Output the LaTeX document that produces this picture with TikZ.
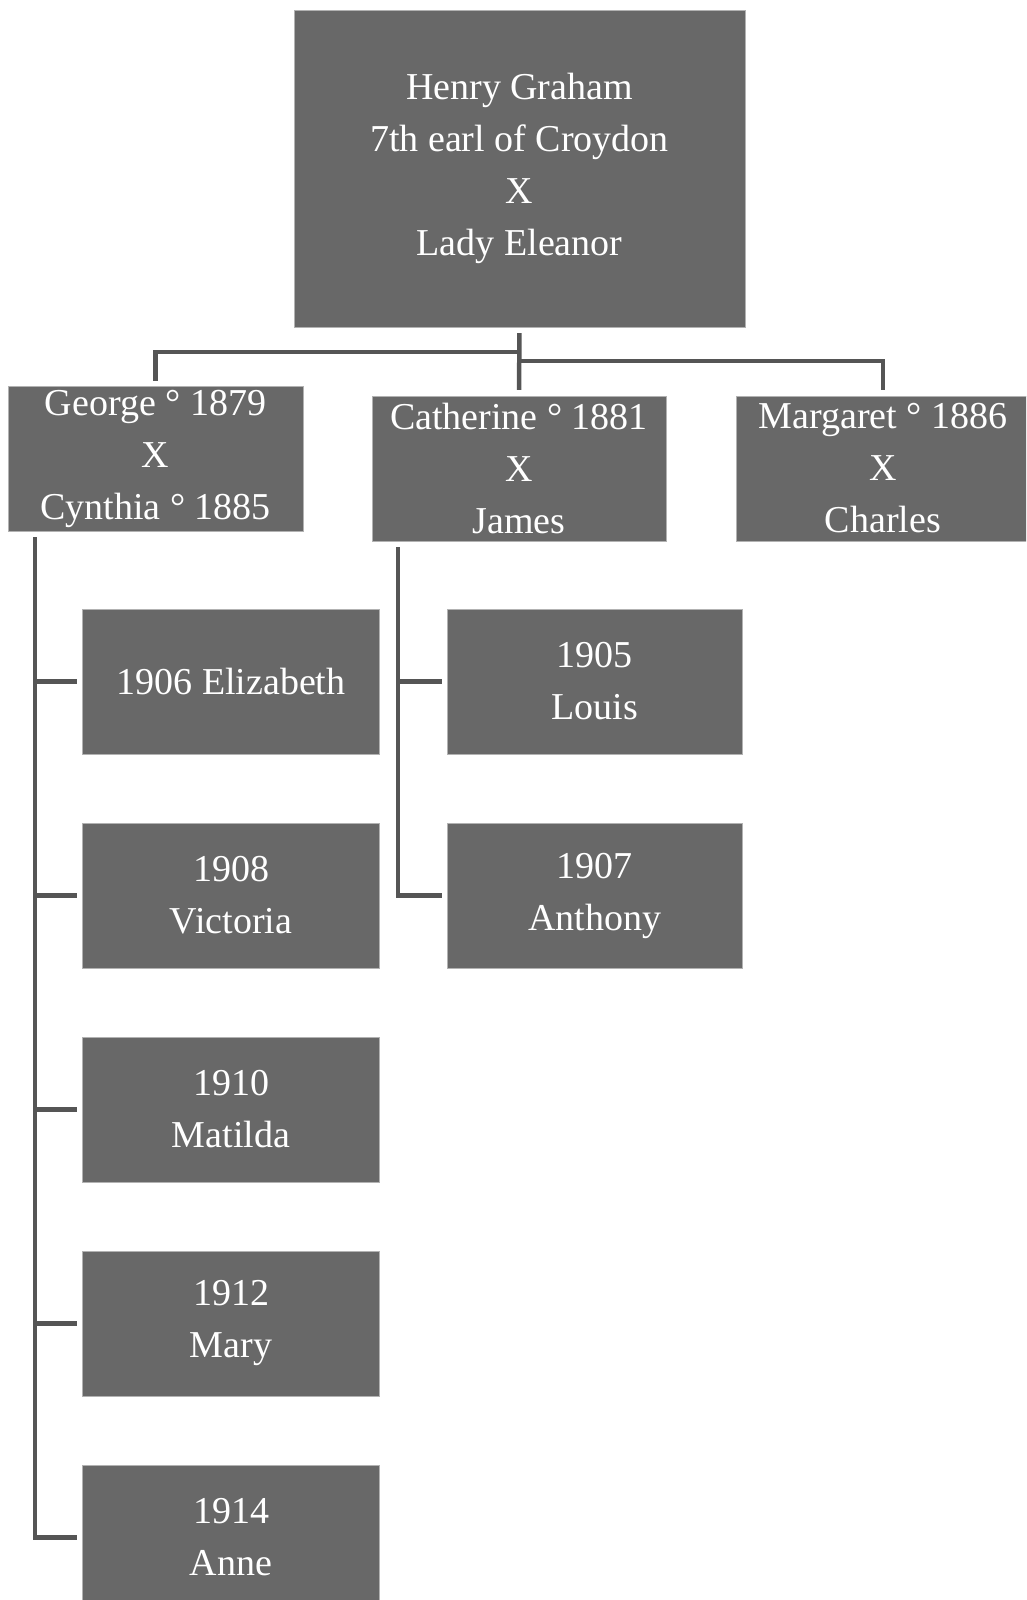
\documentclass[tikz,border=0pt]{standalone}
\usepackage{fontspec}
\setmainfont{Liberation Serif}
\usepackage{tikz}
\usepackage{xcolor}

\definecolor{boxgray}{HTML}{686868}
\definecolor{linegray}{HTML}{555555}

\tikzset{
  person/.style={rectangle, fill=boxgray, draw=gray!60, thin, text=white,
    align=center, inner sep=0pt, font=\fontsize{38}{52}\selectfont},
  link/.style={draw=linegray, line width=4.5pt, line join=miter}
}

\begin{document}
\begin{tikzpicture}[x=1pt, y=-1pt]
          \clip (0,0) rectangle (1026,1600);
          \fill[white] (0,0) rectangle (1026,1600);

          % parents
          \node[person, minimum width=451pt, minimum height=317pt] (henry) at (519.5,168.5)
            {Henry Graham\\7th earl of Croydon\\X\\Lady Eleanor};

          % children and spouses
          \node[person, minimum width=295pt, minimum height=145pt] (george) at (155.5,458.5)
            {George ° 1879\\X\\Cynthia ° 1885};
          \node[person, minimum width=294pt, minimum height=145pt] (cath) at (519,468.5)
            {Catherine ° 1881\\X\\James};
          \node[person, minimum width=294pt, minimum height=145pt] (marg) at (883,468.5)
            {Margaret ° 1886\\X\\Charles};

          % links to parents
          \draw[link, shorten <=6pt, shorten >=6pt] (henry.south) -- (cath.north);
          \draw[link] ([yshift=-25pt]henry.south) -| ([yshift=5pt]george.north);
          \draw[link] ([yshift=-34pt]henry.south) -| ([yshift=6pt]marg.north);

          % George's children
          \node[person, minimum width=297pt, minimum height=145pt] (eliz) at (231,681.5) {1906 Elizabeth};
          \node[person, minimum width=297pt, minimum height=145pt] (vict) at (231,895.5) {1908\\Victoria};
          \node[person, minimum width=297pt, minimum height=145pt] (mati) at (231,1109.5) {1910\\Matilda};
          \node[person, minimum width=297pt, minimum height=145pt] (mary) at (231,1323.5) {1912\\Mary};
          \node[person, minimum width=297pt, minimum height=145pt] (anne) at (231,1537.5) {1914\\Anne};

          \coordinate (gtrunk) at (35,537);
          \draw[link] (gtrunk) |- ([xshift=-5pt]anne.west);
          \foreach \kid in {eliz, vict, mati, mary}
            \draw[link] (gtrunk |- \kid.west) -- ([xshift=-5pt]\kid.west);

          % Catherine's children
          \node[person, minimum width=295pt, minimum height=145pt] (louis) at (594.5,681.5) {1905\\Louis};
          \node[person, minimum width=295pt, minimum height=145pt] (anth) at (594.5,895.5) {1907\\Anthony};

          \coordinate (ctrunk) at (398,547);
          \draw[link] (ctrunk) |- ([xshift=-5pt]anth.west);
          \draw[link] (ctrunk |- louis.west) -- ([xshift=-5pt]louis.west);
\end{tikzpicture}
\end{document}
